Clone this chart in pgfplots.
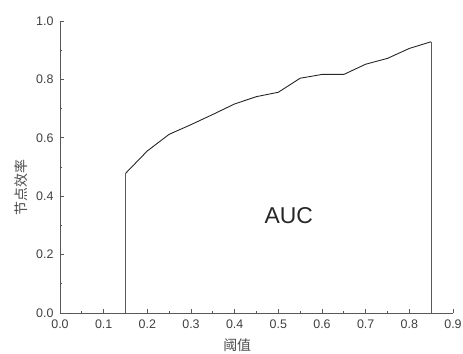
\documentclass[border=0pt]{standalone}
\usepackage{fontspec}
\setmainfont{Liberation Sans}
\newfontfamily\cjk{Noto Sans CJK SC}
\usepackage{pgfplots}
\pgfplotsset{compat=1.18}
\begin{document}
\begin{tikzpicture}
\begin{axis}[
  scale only axis, width=393bp, height=292bp,
  xmin=0, xmax=0.9, ymin=0, ymax=1.0,
  axis lines=left,
  axis line style={-, draw=black!65, line width=0.9pt},
  xtick={0,0.1,...,0.9}, ytick={0,0.2,...,1.0},
  minor xtick={0.05,0.15,...,0.85}, minor ytick={0.1,0.3,...,0.9},
  tick align=inside,
  major tick length=4bp, minor tick length=2.5bp,
  tick style={draw=black!65, line width=0.8pt},
  /pgf/number format/assume math mode=true,
  ticklabel style={font=\fontsize{12.5}{13}\selectfont, text=black!75},
  xticklabel style={yshift=-3bp, /pgf/number format/.cd, fixed, fixed zerofill, precision=1},
  yticklabel style={xshift=-3bp, /pgf/number format/.cd, fixed, fixed zerofill, precision=1},
  xlabel={\cjk 阈值}, ylabel={\cjk 节点效率},
  label style={font=\fontsize{14}{15}\selectfont, text=black!70},
  xlabel style={at={(axis description cs:0.451,0)}, anchor=center, yshift=-32bp},
  ylabel style={at={(axis description cs:0,0.43)}, anchor=center, yshift=39bp},
  clip=false,
]
\addplot[draw=black!85, line width=0.9pt] coordinates {
(0.15,0.478) (0.2,0.555) (0.25,0.612) (0.3,0.645) (0.35,0.680) (0.4,0.716)
(0.45,0.741) (0.5,0.756) (0.55,0.804) (0.6,0.817) (0.65,0.817) (0.7,0.852)
(0.75,0.872) (0.8,0.906) (0.85,0.929)
};
\addplot[draw=black!65, line width=0.9pt] coordinates {(0.15,0) (0.15,0.478)};
\addplot[draw=black!65, line width=0.9pt] coordinates {(0.85,0) (0.85,0.929)};
\node[font=\fontsize{23}{24}\selectfont, text=black!85] at (axis cs:0.524,0.332) {AUC};
\end{axis}
\pgfresetboundingbox
\path (-60bp,-41bp) rectangle (403bp,313bp);
\end{tikzpicture}
\end{document}
